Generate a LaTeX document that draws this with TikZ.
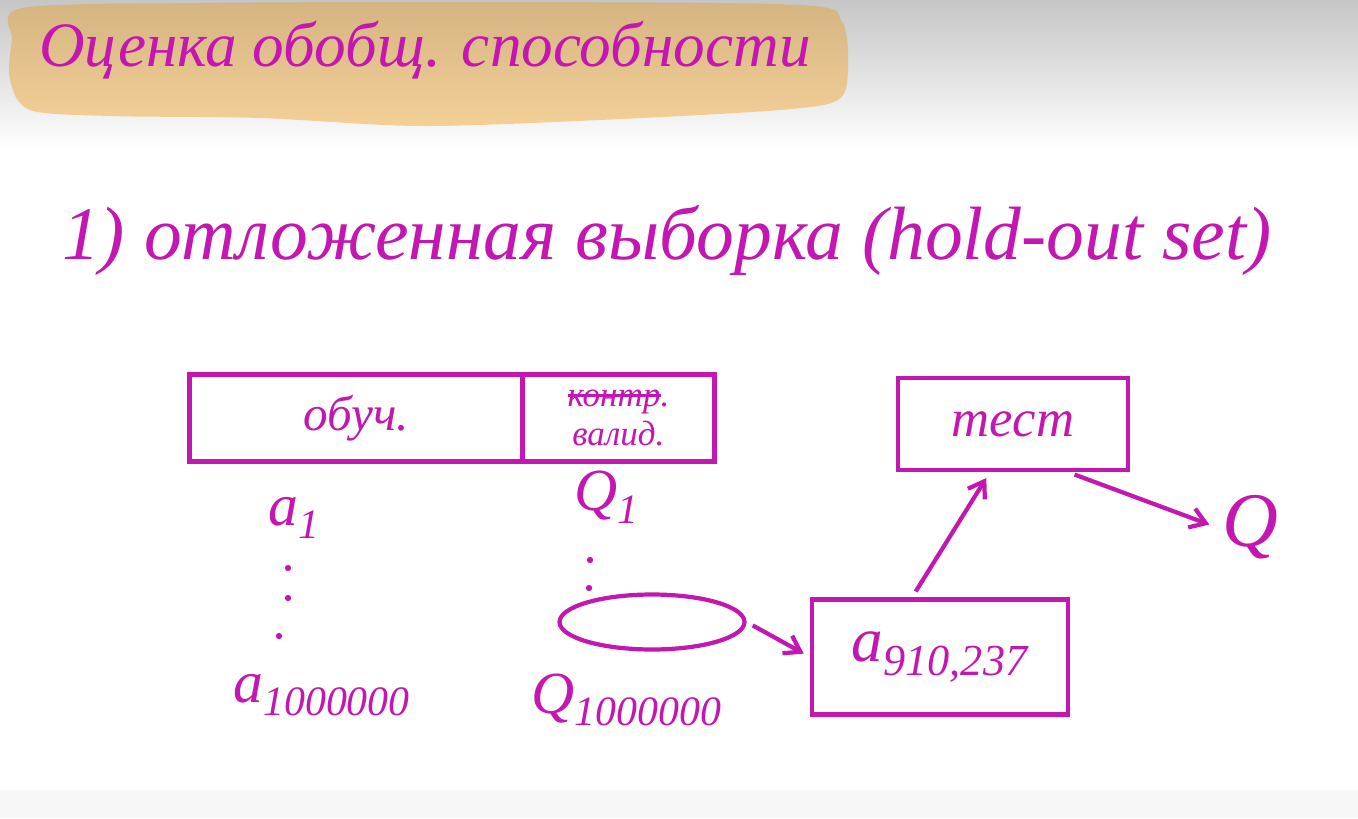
\documentclass[tikz,border=0pt]{standalone}
\usepackage{fontspec}
\setmainfont{Liberation Serif}
\usetikzlibrary{arrows.meta, positioning, shapes.geometric}
\definecolor{inkpink}{RGB}{196,22,176}
\definecolor{bannerlight}{RGB}{244,208,152}
\definecolor{bannerdark}{RGB}{212,180,130}
\newcommand{\crossword}[1]{\setbox0\hbox{#1}\rlap{\rule[0.28em]{\wd0}{1.6pt}}\box0}
\newcommand{\idx}[2]{#1\textsubscript{#2}}

\begin{document}
\begin{tikzpicture}[x=0.02cm, y=-0.02cm, every node/.style={text=inkpink, font=\itshape\fontsize{34}{36}\selectfont},
  box/.style={draw=inkpink, line width=2.4pt, minimum height=1.74cm, font=\itshape\fontsize{28}{30}\selectfont},
  arr/.style={-{Straight Barb[length=3mm, width=4mm]}, draw=inkpink, line width=2.4pt, shorten <=4pt, shorten >=4pt}]
\useasboundingbox (0,0) rectangle (1358,818);
\fill[white] (0,0) rectangle (1358,818);
\shade[top color=gray!45, bottom color=white] (0,0) rectangle (1358,150);
\fill[gray!6] (0,790) rectangle (1358,818);
% title banner
\shade[top color=bannerdark, bottom color=bannerlight] plot[smooth cycle] coordinates {(12,40) (22,8) (200,3) (500,2) (800,5) (842,22) (848,70) (838,100) (780,110) (600,120) (420,126) (260,118) (110,116) (30,110) (10,80)};
\node[font=\itshape\fontsize{36}{38}\selectfont] (title) at (425,50) {Оценка обобщ. способности};
\node[font=\itshape\fontsize{43}{45}\selectfont, anchor=west] (method) at (56,240) {1) отложенная выборка (hold-out set)};

% split of the sample
\node[box, minimum width=6.66cm] (train) at (356,418) {обуч.};
\node[box, right=-2.4pt of train, minimum width=3.84cm, align=center, font=\itshape\fontsize{20}{22}\selectfont] (valid) {\textcolor{inkpink}{\crossword{контр}}.\\валид.};

% models and their quality
\node (a1) at (294,518) {\idx{a}{1}};
\fill[inkpink] (288,568) circle (1.8pt) (288,598) circle (1.8pt) (279,636) circle (1.8pt);
\node (an) at (322,695) {\idx{a}{1000000}};
\node (q1) at (607,497) {\idx{Q}{1}};
\fill[inkpink] (590,560) circle (1.8pt) (589,588) circle (1.8pt);
\node[draw=inkpink, ellipse, line width=2.4pt, minimum width=3.7cm, minimum height=1.1cm] (best) at (652,622) {};
\node (qn) at (627,700) {\idx{Q}{1000000}};

\node[box, minimum width=5.12cm, minimum height=2.3cm, font=\itshape\fontsize{36}{38}\selectfont] (abest) at (940,657) {\idx{a}{910,237}};
\node[box, minimum width=4.6cm, minimum height=1.84cm, font=\itshape\fontsize{30}{32}\selectfont] (test) at (1013,424) {тест};
\node[font=\itshape\fontsize{44}{46}\selectfont] (Q) at (1250,527) {Q};

\draw[arr] (best.east) -- (abest.west);
\draw[arr] ([xshift=-0.56cm]abest.north) -- ([xshift=-0.46cm]test.south);
\draw[arr] ([xshift=1.1cm]test.south) -- (Q.west);
\end{tikzpicture}
\end{document}
